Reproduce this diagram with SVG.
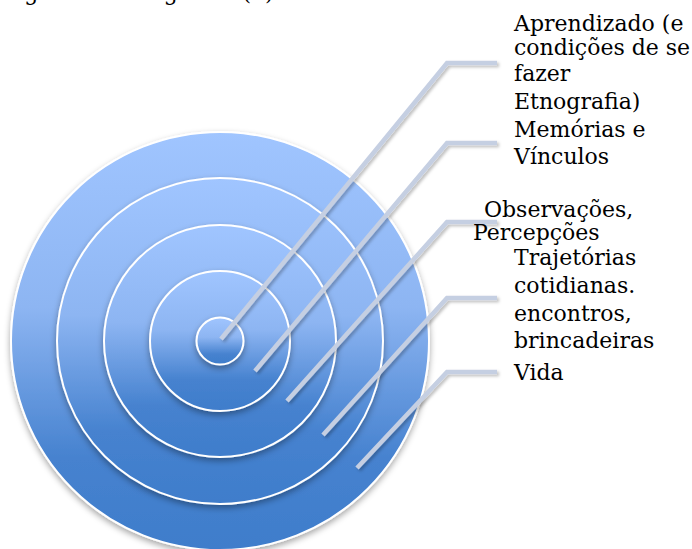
<svg xmlns="http://www.w3.org/2000/svg" width="692" height="549" viewBox="0 0 692 549">
<style>
.lbl{font-family:"DejaVu Serif","Liberation Serif",serif;font-size:22px;fill:#000}
.ring{stroke:#fff;stroke-width:2;filter:url(#sh)}
.conn{fill:none;stroke:#c5cfe2;stroke-width:4.5;stroke-linejoin:miter;filter:url(#lsh)}
</style>
<defs>
<linearGradient id="g" x1="0" y1="0" x2="0" y2="1">
<stop offset="0" stop-color="#a0c5ff"/>
<stop offset="0.42" stop-color="#8db5f2"/>
<stop offset="0.78" stop-color="#4682cf"/>
<stop offset="1" stop-color="#3f7dcb"/>
</linearGradient>
<filter id="sh" x="-20%" y="-20%" width="140%" height="140%">
<feDropShadow dx="0" dy="3" stdDeviation="3" flood-color="#000" flood-opacity="0.35"/>
</filter>
<filter id="lsh" x="-20%" y="-20%" width="140%" height="140%">
<feDropShadow dx="2" dy="2" stdDeviation="1.5" flood-color="#000" flood-opacity="0.25"/>
</filter>
</defs>
<text class="lbl" y="0"><tspan x="2">Figura 3 –</tspan><tspan x="126">Diagrama (1)</tspan></text>
<g id="rings">
<circle id="vida" class="ring" cx="220" cy="341" r="209" fill="url(#g)"/>
<circle id="trajetorias" class="ring" cx="220" cy="341" r="163" fill="url(#g)"/>
<circle id="observacoes" class="ring" cx="220" cy="341" r="116" fill="url(#g)"/>
<circle id="memorias" class="ring" cx="220" cy="341" r="70" fill="url(#g)"/>
<circle id="aprendizado" class="ring" cx="220" cy="341" r="23.5" fill="url(#g)"/>
</g>
<g id="connectors">
<polyline class="conn" points="221,339 447,63 497,63"/>
<polyline class="conn" points="255,371 447,143 497,143"/>
<polyline class="conn" points="287,401 447,222 497,222"/>
<polyline class="conn" points="323,435 447,298 497,298"/>
<polyline class="conn" points="357,468 447,372 497,372"/>
</g>
<g id="label-aprendizado">
<text class="lbl" x="514"><tspan y="31">Aprendizado (e</tspan><tspan x="514" y="55">condições de se</tspan><tspan x="514" y="81">fazer</tspan><tspan x="514" y="109">Etnografia)</tspan></text>
</g>
<g id="label-memorias">
<text class="lbl" x="514"><tspan y="137">Memórias e</tspan><tspan x="514" y="164">Vínculos</tspan></text>
</g>
<g id="label-observacoes">
<text class="lbl"><tspan x="484" y="217">Observações,</tspan><tspan x="473" y="240">Percepções</tspan></text>
</g>
<g id="label-trajetorias">
<text class="lbl" x="514"><tspan y="265">Trajetórias</tspan><tspan x="514" y="293">cotidianas.</tspan><tspan x="514" y="321">encontros,</tspan><tspan x="514" y="348">brincadeiras</tspan></text>
</g>
<g id="label-vida">
<text class="lbl" x="514" y="380">Vida</text>
</g>
</svg>
